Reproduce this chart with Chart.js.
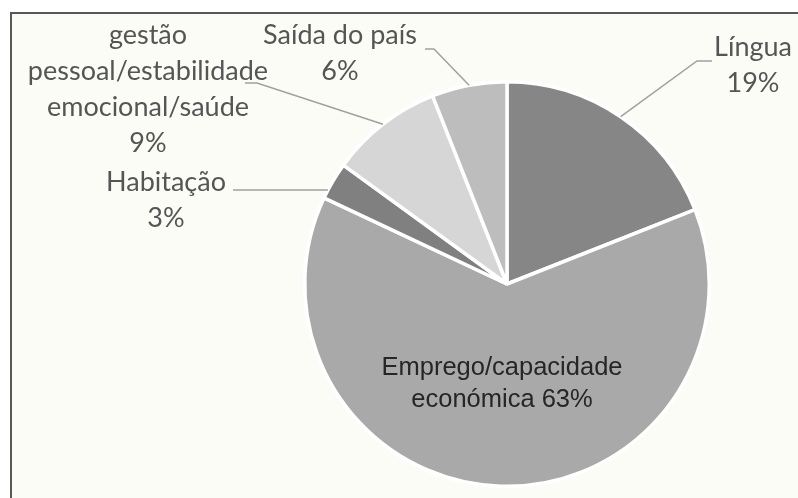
<!DOCTYPE html>
<html lang="pt">
<head>
    <meta charset="UTF-8">
    <title>Dificuldades</title>
    <script src="https://cdn.jsdelivr.net/npm/chart.js"></script>
    <style>
        html, body { margin: 0; padding: 0; background: #ffffff; }
        #frame {
            position: absolute; left: 10px; top: 12px;
            width: 800px; height: 500px;
            border-left: 2px solid #585858; border-top: 2px solid #585858;
            background: #fcfcf7;
        }
        #wrap { position: absolute; left: 0; top: 0; width: 798px; height: 498px; }
    </style>
</head>
<body>
    <div id="frame"></div>
    <div id="wrap"><canvas id="pie" width="798" height="498"></canvas></div>

    <script>
        // data, clockwise from the top
        const categories = ["Língua", "Emprego/capacidade económica", "Habitação",
            "gestão pessoal/estabilidade emocional/saúde", "Saída do país"];
        const values = [19, 63, 3, 9, 6];
        const labelLines = [
            ["Língua", "19%"],
            ["Emprego/capacidade", "económica 63%"],
            ["Habitação", "3%"],
            ["gestão", "pessoal/estabilidade", "emocional/saúde", "9%"],
            ["Saída do país", "6%"]
        ];
        const sliceColors = ["#868686", "#a9a9a9", "#808080", "#d6d6d6", "#bdbdbd"];

        // where the outside labels sit (text centre x, first line centre y) and the leader bend
        const labelSpots = [
            { x: 753, y: 47, bend: [697, 61], end: [712, 61] },
            null,
            { x: 166, y: 182, bend: null, end: [233, 190] },
            { x: 148, y: 35, bend: [257, 83], end: [245, 83] },
            { x: 340, y: 35, bend: [434, 49], end: [425, 49] }
        ];

        const labelPlugin = {
            id: "pieLabels",
            afterDatasetsDraw(chart) {
                const ctx = chart.ctx;
                const arcs = chart.getDatasetMeta(0).data;
                ctx.save();
                arcs.forEach((arc, i) => {
                    const p = arc.getProps(["x", "y", "startAngle", "endAngle", "outerRadius"], true);
                    const spot = labelSpots[i];
                    if (!spot) {
                        // label inside the big slice
                        ctx.fillStyle = "#262626";
                        ctx.font = "25.5px 'Liberation Sans', Arial, sans-serif";
                        ctx.textAlign = "center";
                        ctx.textBaseline = "middle";
                        labelLines[i].forEach((t, k) => ctx.fillText(t, p.x - 5, 368 + k * 32));
                        return;
                    }
                    // leader line
                    ctx.strokeStyle = "#a0a0a0";
                    ctx.lineWidth = 1.5;
                    ctx.beginPath();
                    if (spot.bend) {
                        const mid = (p.startAngle + p.endAngle) / 2;
                        ctx.moveTo(p.x + Math.cos(mid) * p.outerRadius, p.y + Math.sin(mid) * p.outerRadius);
                        ctx.lineTo(spot.bend[0], spot.bend[1]);
                    } else {
                        const dy = spot.end[1] - p.y;
                        ctx.moveTo(p.x - Math.sqrt(p.outerRadius * p.outerRadius - dy * dy), spot.end[1]);
                    }
                    ctx.lineTo(spot.end[0], spot.end[1]);
                    ctx.stroke();
                    // text
                    ctx.fillStyle = "#555555";
                    ctx.font = "27px Lato, 'Open Sans', sans-serif";
                    ctx.textAlign = "center";
                    ctx.textBaseline = "middle";
                    labelLines[i].forEach((t, k) => ctx.fillText(t, spot.x, spot.y + k * 36));
                });
                ctx.restore();
            }
        };

        new Chart(document.getElementById("pie"), {
            type: "pie",
            data: {
                labels: categories,
                datasets: [{
                    data: values,
                    backgroundColor: sliceColors,
                    borderColor: "#ffffff",
                    borderWidth: 3.5
                }]
            },
            options: {
                responsive: false,
                animation: false,
                layout: { padding: { left: 303, right: 87, top: 80, bottom: 10 } },
                plugins: {
                    legend: { display: false },
                    tooltip: { enabled: false }
                }
            },
            plugins: [labelPlugin]
        });
    </script>
</body>
</html>
